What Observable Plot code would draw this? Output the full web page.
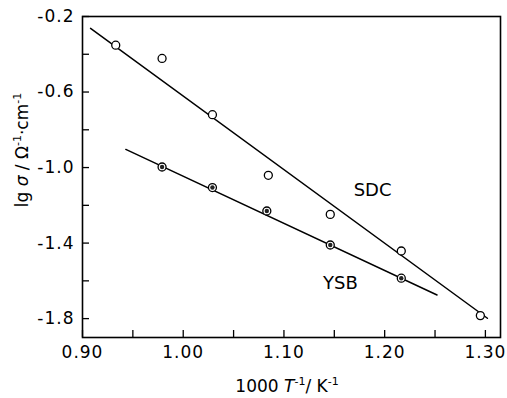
<!DOCTYPE html>
<html><head><meta charset="utf-8">
<script src="https://cdn.jsdelivr.net/npm/d3@7"></script>
<script src="https://cdn.jsdelivr.net/npm/@observablehq/plot@0.6"></script>
<style>
body{margin:0;background:#fff}
svg{font-family:"DejaVu Sans",sans-serif}
</style>
</head><body><div id="chart"></div>
<script>
// SDC (open circles)
const sdcX = [0.933, 0.979, 1.029, 1.0845, 1.146, 1.2165, 1.295];
const sdcY = [-0.352, -0.422, -0.720, -1.041, -1.248, -1.442, -1.784];
// YSB (circles with dot)
const ysbX = [0.979, 1.029, 1.083, 1.146, 1.2165];
const ysbY = [-0.997, -1.106, -1.230, -1.410, -1.586];
// fitted lines (end points)
const sdcFitX = [0.908, 1.302];
const sdcFitY = [-0.263, -1.798];
const ysbFitX = [0.943, 1.252];
const ysbFitY = [-0.904, -1.675];
// ticks
const xTicks = [0.90, 0.95, 1.00, 1.05, 1.10, 1.15, 1.20, 1.25, 1.30];
const xTickLabels = ["0.90", "", "1.00", "", "1.10", "", "1.20", "", "1.30"];
const yTicks = [-0.2, -0.4, -0.6, -0.8, -1.0, -1.2, -1.4, -1.6, -1.8];
const yTickLabels = ["-0.2", "", "-0.6", "", "-1.0", "", "-1.4", "", "-1.8"];
// series labels
const seriesNames = ["SDC", "YSB"];
const seriesLabelX = [1.188, 1.156];
const seriesLabelY = [-1.121, -1.613];

const sdc = sdcX.map((x, i) => ({x, y: sdcY[i]}));
const ysb = ysbX.map((x, i) => ({x, y: ysbY[i]}));
const sdcFit = sdcFitX.map((x, i) => ({x, y: sdcFitY[i]}));
const ysbFit = ysbFitX.map((x, i) => ({x, y: ysbFitY[i]}));
const names = seriesNames.map((t, i) => ({t, x: seriesLabelX[i], y: seriesLabelY[i]}));

const plot = Plot.plot({
  width: 507, height: 398,
  marginLeft: 82, marginTop: 16, marginRight: 7, marginBottom: 61,
  style: {fontFamily: "DejaVu Sans", fontSize: "17px", background: "#fff", color: "#000"},
  x: {domain: [0.9, 1.315]},
  y: {domain: [-1.9, -0.2]},
  marks: [
    Plot.axisX({ticks: xTicks, tickSize: -7, tickPadding: 15, tickFormat: (d, i) => xTickLabels[i], label: null, strokeWidth: 1.3}),
    Plot.axisY({ticks: yTicks, tickSize: -7, tickPadding: 15, tickFormat: (d, i) => yTickLabels[i], label: null, strokeWidth: 1.3}),
    Plot.frame({strokeWidth: 1.6}),
    Plot.line(sdcFit, {x: "x", y: "y", stroke: "#000", strokeWidth: 1.5}),
    Plot.line(ysbFit, {x: "x", y: "y", stroke: "#000", strokeWidth: 1.5}),
    Plot.dot(sdc, {x: "x", y: "y", r: 4, fill: "#fff", stroke: "#000", strokeWidth: 1.3}),
    Plot.dot(ysb, {x: "x", y: "y", r: 4, fill: "#fff", stroke: "#000", strokeWidth: 1.3}),
    Plot.dot(ysb, {x: "x", y: "y", r: 2.2, fill: "#222"}),
    Plot.text(names, {x: "x", y: "y", text: "t", fontSize: 18, fill: "#000"})
  ]
});

const svg = d3.select(plot);
svg.selectAll("[aria-label$='tick label'] text").style("letter-spacing", "1px");
// y axis title
const yt = svg.append("text")
  .attr("transform", "translate(28,150) rotate(-90)")
  .attr("text-anchor", "middle")
  .attr("font-size", 17).attr("fill", "#000");
yt.append("tspan").text("lg ");
yt.append("tspan").attr("font-style", "italic").text("σ");
yt.append("tspan").text(" / Ω");
yt.append("tspan").attr("font-size", 11).attr("dy", -7).text("-1");
yt.append("tspan").attr("dy", 7).text("·cm");
yt.append("tspan").attr("font-size", 11).attr("dy", -7).text("-1");
// x axis title
const xt = svg.append("text")
  .attr("x", 287).attr("y", 392)
  .attr("text-anchor", "middle")
  .attr("font-size", 17).attr("fill", "#000");
xt.append("tspan").text("1000 ");
xt.append("tspan").attr("font-style", "italic").text("T");
xt.append("tspan").attr("font-size", 11).attr("dy", -7).text("-1");
xt.append("tspan").attr("dy", 7).text("/ K");
xt.append("tspan").attr("font-size", 11).attr("dy", -7).text("-1");

document.getElementById("chart").append(plot);
</script>
</body></html>
